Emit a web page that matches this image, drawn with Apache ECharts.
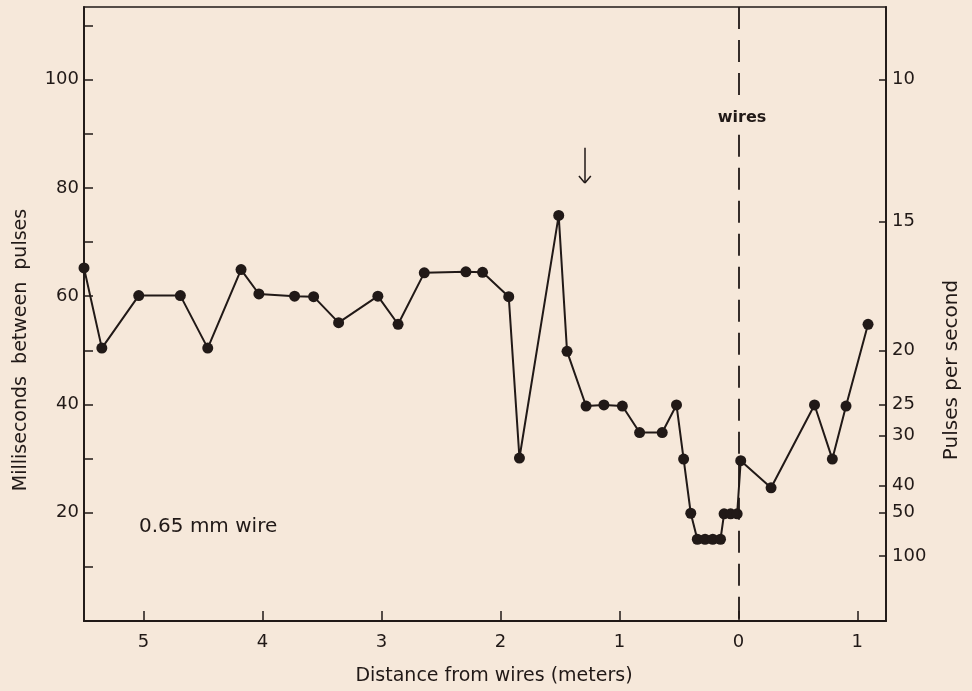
<!DOCTYPE html>
<html>
<head>
<meta charset="utf-8">
<script src="https://cdn.jsdelivr.net/npm/echarts@6/dist/echarts.min.js"></script>
<style>
  html, body { margin: 0; padding: 0; background: #f6e8da; }
  #chart { width: 972px; height: 691px; }
</style>
</head>
<body>
<div id="chart"></div>
<script>
// Distance from wires (m): positive = before wires (left), negative = past wires (right)
const distance = [5.50, 5.35, 5.04, 4.69, 4.46, 4.18, 4.03, 3.73, 3.57, 3.36,
                  3.03, 2.86, 2.64, 2.29, 2.15, 1.93, 1.84, 1.51, 1.44, 1.28,
                  1.13, 0.975, 0.83, 0.64, 0.52, 0.46, 0.40, 0.345, 0.28, 0.215,
                  0.15, 0.12, 0.065, 0.01, -0.02, -0.275, -0.64, -0.79, -0.905, -1.09];
// Milliseconds between pulses
const msBetween = [65.2, 50.4, 60.1, 60.1, 50.4, 64.9, 60.4, 60.0, 59.9, 55.1,
                   60.0, 54.8, 64.3, 64.5, 64.4, 59.9, 30.1, 74.9, 49.8, 39.7,
                   39.9, 39.7, 34.8, 34.8, 39.9, 29.9, 19.9, 15.1, 15.1, 15.1,
                   15.1, 19.8, 19.8, 19.8, 29.6, 24.6, 39.9, 29.9, 39.7, 54.8];

// Axis ticks / labels
const xTickValues = [5, 4, 3, 2, 1, 0, -1];
const leftTickValues = [10, 20, 30, 40, 50, 60, 70, 80, 90, 100, 110];
const leftLabelValues = [20, 40, 60, 80, 100];
// Right axis: pulses-per-second labels placed at the ms positions drawn in the figure
const rightTickMs = [100, 73.8, 50, 40, 34.2, 25, 20, 12];
const rightTickLabels = ['10', '15', '20', '25', '30', '40', '50', '100'];

// Annotations
const wiresAt = 0;
const wiresGap = [96.6, 89.8];
const arrowAt = [1.29, 87.4, 80.9];

const xMin = -1.241, xMax = 5.50;
const yMin = 0, yMax = 113.4;

const ink = '#211917';
const font = 'DejaVu Sans';

const seriesData = distance.map((d, i) => [d, msBetween[i]]);

const chart = echarts.init(document.getElementById('chart'));

const lineSt = (extra) => Object.assign({ color: ink, width: 1.8, type: 'solid' }, extra || {});

chart.setOption({
  backgroundColor: '#f6e8da',
  animation: false,
  grid: { left: 84, right: 86, top: 7, bottom: 67, show: true, borderColor: ink, borderWidth: 1.6, backgroundColor: 'transparent' },
  xAxis: {
    type: 'value', inverse: true, min: xMin, max: xMax,
    axisLine: { show: true, onZero: false, lineStyle: { color: ink, width: 1.8 } },
    axisTick: { show: true, inside: true, length: 10, customValues: xTickValues, lineStyle: { color: ink, width: 1.5 } },
    axisLabel: { customValues: xTickValues, formatter: v => String(Math.abs(v)), color: ink, fontFamily: font, fontSize: 18, margin: 12 },
    splitLine: { show: false },
    name: 'Distance from wires (meters)', nameLocation: 'middle', nameGap: 46,
    nameTextStyle: { color: ink, fontFamily: font, fontSize: 19, padding: [0, 0, 0, 18] }
  },
  yAxis: [
    {
      type: 'value', min: yMin, max: yMax, position: 'left',
      axisLine: { show: true, onZero: false, lineStyle: { color: ink, width: 1.8 } },
      axisTick: { show: true, inside: true, length: 9, customValues: leftTickValues, lineStyle: { color: ink, width: 1.5 } },
      axisLabel: { customValues: leftLabelValues, color: ink, fontFamily: font, fontSize: 18, margin: 5 },
      splitLine: { show: false }
    },
    {
      type: 'value', min: yMin, max: yMax, position: 'right',
      axisLine: { show: true, onZero: false, lineStyle: { color: ink, width: 1.8 } },
      axisTick: { show: true, inside: true, length: 7, customValues: rightTickMs, lineStyle: { color: ink, width: 1.5 } },
      axisLabel: {
        customValues: rightTickMs, color: ink, fontFamily: font, fontSize: 18, margin: 6,
        formatter: v => {
          let best = 0;
          rightTickMs.forEach((m, i) => { if (Math.abs(m - v) < Math.abs(rightTickMs[best] - v)) best = i; });
          return rightTickLabels[best];
        }
      },
      splitLine: { show: false }
    }
  ],
  graphic: [
    { type: 'text', x: 21, y: 350, rotation: Math.PI / 2,
      style: { text: 'Milliseconds  between  pulses', fill: ink, font: '19px "DejaVu Sans"', align: 'center', verticalAlign: 'middle' } },
    { type: 'text', x: 952, y: 370, rotation: Math.PI / 2,
      style: { text: 'Pulses per second', fill: ink, font: '20px "DejaVu Sans"', align: 'center', verticalAlign: 'middle' } },
    { type: 'text', x: 742, y: 118,
      style: { text: 'wires', fill: ink, font: 'bold 16px "DejaVu Sans"', align: 'center', verticalAlign: 'middle' } },
    { type: 'text', x: 139, y: 527,
      style: { text: '0.65 mm wire', fill: ink, font: '20px "DejaVu Sans"', align: 'left', verticalAlign: 'middle' } }
  ],
  series: [
    {
      type: 'line',
      data: seriesData,
      xAxisIndex: 0, yAxisIndex: 0,
      clip: false,
      symbol: 'circle', symbolSize: 11,
      showAllSymbol: true,
      lineStyle: { color: ink, width: 2 },
      itemStyle: { color: ink },
      z: 3,
      markLine: {
        silent: true, symbol: ['none', 'none'], animation: false,
        label: { show: false },
        lineStyle: lineSt(),
        data: [
          [{ coord: [wiresAt, yMax], lineStyle: lineSt({ type: [22, 11], width: 1.8 }) }, { coord: [wiresAt, wiresGap[0]] }],
          [{ coord: [wiresAt, wiresGap[1]], lineStyle: lineSt({ type: [22, 11], width: 1.8 }) }, { coord: [wiresAt, yMin] }],
          [{ coord: [arrowAt[0], arrowAt[1]], lineStyle: lineSt({ width: 1.5 }) }, { coord: [arrowAt[0], arrowAt[2]] }],
          [{ coord: [arrowAt[0], arrowAt[2]], lineStyle: lineSt({ width: 1.5 }) }, { coord: [arrowAt[0] + 0.05, arrowAt[2] + 1.3] }],
          [{ coord: [arrowAt[0], arrowAt[2]], lineStyle: lineSt({ width: 1.5 }) }, { coord: [arrowAt[0] - 0.05, arrowAt[2] + 1.3] }]
        ]
      }
    }
  ]
});
</script>
</body>
</html>
